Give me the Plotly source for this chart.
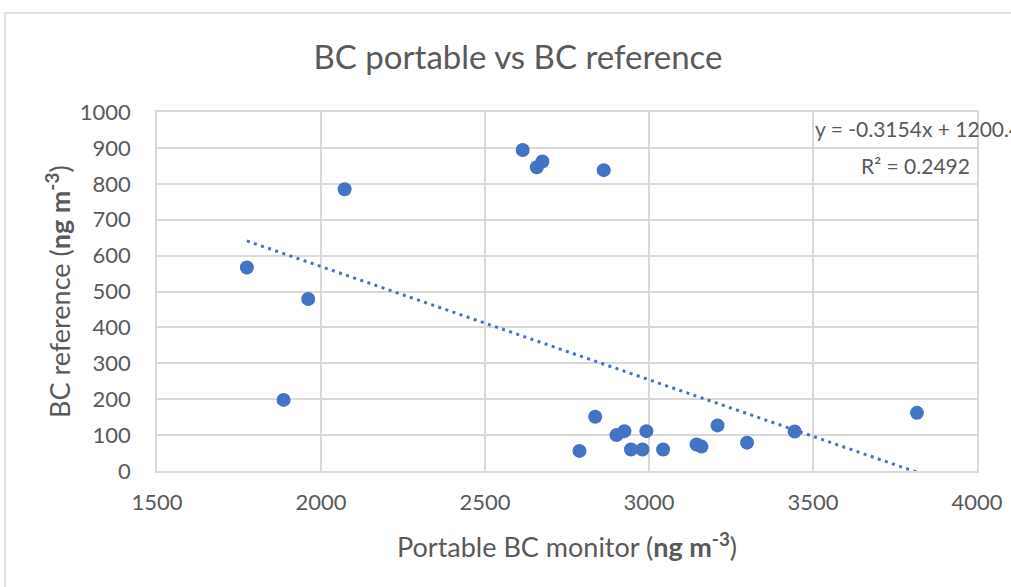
import plotly.graph_objects as go

# ---- data ----
x_portable = [1774, 1886, 1961, 2072, 2615, 2658, 2675, 2862, 2788, 2836, 2901,
              2925, 2945, 2980, 2992, 3043, 3145, 3160, 3209, 3299, 3444, 3817]
y_reference = [567, 198, 479, 785, 894, 846, 862, 838, 56, 151, 100,
               111, 60, 60, 111, 60, 74, 68, 127, 79, 110, 162]
trend_slope = -0.3154
trend_intercept = 1200.4
trend_r2 = 0.2492
x_ticks = [1500, 2000, 2500, 3000, 3500, 4000]
y_ticks = [0, 100, 200, 300, 400, 500, 600, 700, 800, 900, 1000]

# ---- layout geometry (pixels) ----
W, H = 1011, 587
L, R, T, B = 157, 977, 112, 471
pw, ph = R - L, B - T


def px(xp):
    return (xp - L) / pw


def py(yp):
    return (B - yp) / ph


FONT = "Lato"
GREY = "#595959"
BLUE = "#4472C4"
GRID = "#D9D9D9"

trend_x = [min(x_portable), max(x_portable)]
trend_y = [trend_slope * v + trend_intercept for v in trend_x]

fig = go.Figure()
fig.add_trace(go.Scatter(
    x=x_portable, y=y_reference, mode="markers",
    marker=dict(size=14, color=BLUE, line=dict(width=0)),
    showlegend=False, hoverinfo="x+y"))
fig.add_trace(go.Scatter(
    x=trend_x, y=trend_y, mode="lines",
    line=dict(color=BLUE, width=3, dash="3px,4.5px"),
    showlegend=False, hoverinfo="skip"))

axis_common = dict(
    showgrid=True, gridcolor=GRID, gridwidth=1.5,
    showline=True, linecolor=GRID, linewidth=1.5, mirror=True,
    zeroline=False, ticks="",
    tickfont=dict(family=FONT, size=22, color=GREY),
)

fig.update_layout(
    width=W, height=H,
    margin=dict(l=L, r=W - R, t=T, b=H - B, autoexpand=False),
    paper_bgcolor="white", plot_bgcolor="white",
    font=dict(family=FONT, color=GREY),
    title=dict(text="BC portable vs BC reference",
               font=dict(family=FONT, size=33, color=GREY),
               x=518 / W, xanchor="center", xref="container",
               y=1 - 57 / H, yanchor="middle", yref="container"),
    xaxis=dict(range=[1500, 4000], tickvals=x_ticks, ticklabelstandoff=11,
               **axis_common),
    yaxis=dict(range=[0, 1000], tickvals=y_ticks, ticklabelstandoff=20,
               **axis_common),
    annotations=[
        dict(text="Portable BC monitor (<b>ng m</b><sup><b>-3</b></sup>)",
             xref="paper", yref="paper", x=px(567), y=py(545),
             xanchor="center", yanchor="middle", showarrow=False,
             font=dict(family=FONT, size=27, color=GREY)),
        dict(text="BC reference (<b>ng m</b><sup><b>-3</b></sup>)",
             xref="paper", yref="paper", x=px(58), y=py(292),
             xanchor="center", yanchor="middle", showarrow=False, textangle=-90,
             font=dict(family=FONT, size=27, color=GREY)),
        dict(text=f"y = {trend_slope}x + {trend_intercept}",
             xref="paper", yref="paper", x=px(813), y=py(128),
             xanchor="left", yanchor="middle", showarrow=False,
             font=dict(family=FONT, size=21, color=GREY)),
        dict(text=f"R² = {trend_r2}",
             xref="paper", yref="paper", x=px(972), y=py(165),
             xanchor="right", yanchor="middle", showarrow=False,
             font=dict(family=FONT, size=21, color=GREY)),
    ],
    shapes=[
        dict(type="line", xref="paper", yref="paper",
             x0=px(5), x1=px(1020), y0=py(13), y1=py(13),
             line=dict(color=GRID, width=1.5)),
        dict(type="line", xref="paper", yref="paper",
             x0=px(5), x1=px(5), y0=py(13), y1=py(600),
             line=dict(color=GRID, width=1.5)),
    ],
)

fig.write_html(
    "out.html",
    config={"displayModeBar": False},
    post_script="document.body.style.margin='0';document.body.style.overflow='hidden';",
)
